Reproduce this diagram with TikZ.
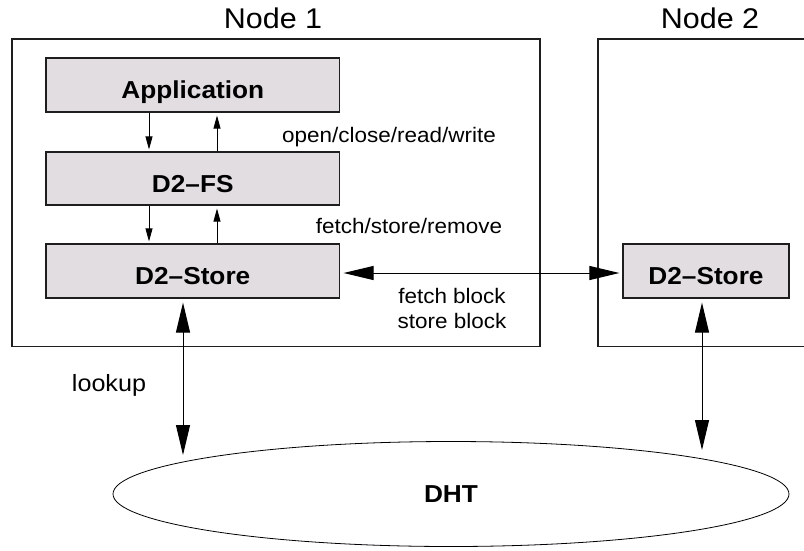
\documentclass[tikz,border=0pt]{standalone}
\usepackage{fontspec}
\setmainfont{Liberation Sans}
\usepackage{graphicx}
\usetikzlibrary{shapes.geometric,arrows.meta,calc}
% slightly widened lettering
\newcommand\wx[1]{\scalebox{1.07}[1]{#1}}
\definecolor{boxfill}{RGB}{226,221,225}
\definecolor{edge}{RGB}{30,30,30}
\tikzset{
  nframe/.style={draw=edge, line width=1.3pt, inner sep=0pt},
  layerbox/.style={draw=edge, line width=1.2pt, fill=boxfill, inner sep=0pt,
    minimum height=54pt, text height=27pt, text depth=0pt,
    font=\fontsize{24.5}{26}\selectfont\bfseries},
  ntitle/.style={anchor=base, inner sep=0pt, font=\fontsize{28.5}{30}\selectfont},
  lbl/.style={anchor=base, inner sep=0pt, font=\fontsize{21}{25}\selectfont},
  smallarr/.style={-{Triangle[length=13pt,width=7pt]}, line width=0.8pt},
  bigarr/.style={{Triangle[length=30pt,width=14pt]}-{Triangle[length=30pt,width=14pt]}, line width=1pt},
}
\begin{document}
\begin{tikzpicture}[x=1pt,y=-1pt]
\clip (0,0) rectangle (804,550);
\useasboundingbox (0,0) rectangle (804,550);

% hosts
\node[nframe, minimum width=528pt, minimum height=307.5pt] (host1) at (276,192.75) {};
\node[nframe, minimum width=232pt, minimum height=307.5pt] (host2) at (714,192.75) {};
\node[ntitle] (t1) at (273,28) {\wx{Node 1}};
\node[ntitle] (t2) at (710,28) {\wx{Node 2}};

% software layers
\node[layerbox, minimum width=293.5pt] (app) at (192.75,85) {\wx{Application}};
\node[layerbox, minimum width=293.5pt, minimum height=53pt] (fs) at (192.75,178.5) {\wx{D2–FS}};
\node[layerbox, minimum width=293.5pt] (st1) at (192.75,271) {\wx{D2–Store}};
\node[layerbox, minimum width=166pt] (st2) at (706,271) {\wx{D2–Store}};

% distributed hash table
\node[ellipse, draw=black, line width=0.8pt, minimum width=676pt, minimum height=105pt,
  inner sep=0pt, font=\fontsize{24.5}{26}\selectfont\bfseries] (dht) at (451,494) {\wx{DHT}};

% local calls
\coordinate (dn) at (149,0);
\coordinate (up) at (217,0);
\draw[smallarr, shorten >=2pt] (app.south -| dn) -- (fs.north -| dn);
\draw[smallarr, shorten >=3pt] (fs.north -| up) -- (app.south -| up);
\draw[smallarr, shorten >=2pt] (fs.south -| dn) -- (st1.north -| dn);
\draw[smallarr, shorten >=3pt] (st1.north -| up) -- (fs.south -| up);

% block transfer between stores
\draw[bigarr, shorten <=3.5pt, shorten >=3pt] ([yshift=-2pt]st1.east) -- ([yshift=-2pt]st2.west);

% lookups
\coordinate (lk1) at (183,455);
\coordinate (lk2) at (702,450);
\draw[bigarr, shorten <=4pt] (lk1 |- st1.south) -- (lk1);
\draw[bigarr, shorten <=4pt] (lk2 |- st2.south) -- (lk2);

% labels
\node[lbl] (ocrw) at (389,142) {\wx{open/close/read/write}};
\node[lbl] (fsr) at (409,233) {\wx{fetch/store/remove}};
\node[lbl] (fb) at (452,303) {\wx{fetch block}};
\node[lbl] (sb) at (452,328) {\wx{store block}};
\node[lbl, font=\fontsize{23.5}{25}\selectfont] (lkp) at (109,391) {\wx{lookup}};
\end{tikzpicture}
\end{document}
